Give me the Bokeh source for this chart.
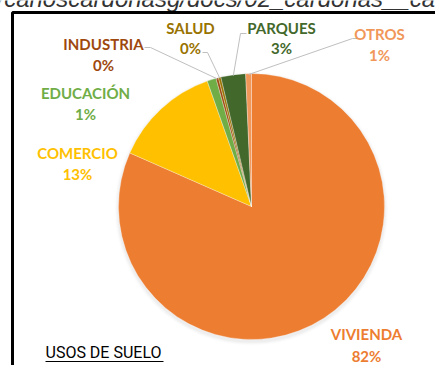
import numpy as np
from bokeh.plotting import figure
from bokeh.models import Range1d
from bokeh.core.properties import value
from bokeh.embed import file_html
from bokeh.resources import INLINE

# Land-use shares (percent of total area)
categories = ["VIVIENDA", "COMERCIO", "EDUCACIÓN", "INDUSTRIA", "SALUD", "PARQUES", "OTROS"]
shares = [81.6, 13.0, 1.1, 0.3, 0.3, 3.0, 0.7]
colors = ["#ED7D31", "#FFC000", "#70AD47", "#9E480E", "#997300", "#43682B", "#F1975A"]
chart_title = "USOS DE SUELO"
path_text = "/carloscardonasg/docs/02_cardonas__cardonas"

W, H = 435, 365


def Y(py):
    """Screen-style y (from top) to data y (from bottom)."""
    return H - py


p = figure(width=W, height=H, x_range=Range1d(0, W), y_range=Range1d(0, H),
           output_backend="svg", toolbar_location=None, min_border=0)
p.axis.visible = False
p.grid.visible = False
p.outline_line_color = None
p.background_fill_color = "white"

# Path text above the framed chart, running off the top edge
p.text(x=[-3], y=[Y(-2)], text=[path_text], text_font=value("Liberation Sans"),
       text_font_style="italic", text_font_size="24px", text_color="#333333",
       text_baseline="alphabetic", text_align="left")

# Black frame around the chart
p.quad(left=[12], right=[W + 20], top=[Y(12)], bottom=[-20],
       fill_color=None, line_color="black", line_width=3)

# Pie geometry
cx, cy, R = 251, Y(206), 133
vals = np.array(shares, dtype=float)
frac = vals / vals.sum()
cum_end = np.cumsum(frac)
cum_start = cum_end - frac
start = np.pi / 2 - 2 * np.pi * cum_start
end = np.pi / 2 - 2 * np.pi * cum_end
mid = (start + end) / 2

# soft shadow under the pie
for k, a in enumerate([0.05, 0.04, 0.03, 0.02]):
    p.circle(x=[cx], y=[cy - 2], radius=R + 1 + k, fill_color="#808080",
             fill_alpha=a, line_color=None)

p.wedge(x=cx, y=cy, radius=R, start_angle=start, end_angle=end,
        direction="clock", fill_color=colors, line_color="white",
        line_width=0.5, line_alpha=0.6)

pct = [f"{int(round(f * 100))}%" for f in frac]

# Label placements: (x center, name line y, percent line y) in screen px
label_pos = {
    "VIVIENDA": (366, 333, 355),
    "COMERCIO": (77, 152, 173),
    "EDUCACIÓN": (85, 92, 113),
    "INDUSTRIA": (103, 43, 64),
    "SALUD": (190, 27, 47),
    "PARQUES": (281, 27, 47),
    "OTROS": (379, 33, 54),
}

# Leader lines: label-side points in screen px, ending at the slice edge
leader_start = {
    "INDUSTRIA": [(144, 47), (150, 47)],
    "SALUD": [(202, 52), (207, 52)],
    "PARQUES": [(246, 33), (240, 33)],
    "OTROS": [(357, 38), (352, 38)],
}
xs, ys = [], []
for name, pts in leader_start.items():
    i = categories.index(name)
    ex = cx + (R - 1) * np.cos(mid[i])
    ey = cy + (R - 1) * np.sin(mid[i])
    xs.append([q[0] for q in pts] + [ex])
    ys.append([Y(q[1]) for q in pts] + [ey])
p.multi_line(xs=xs, ys=ys, line_color="#BFBFBF", line_width=1)

for i, name in enumerate(categories):
    lx, ny, py = label_pos[name]
    p.text(x=[lx], y=[Y(ny)], text=[name], text_font=value("Lato"),
           text_font_style="bold", text_font_size="15px", text_color=colors[i],
           text_align="center", text_baseline="middle")
    p.text(x=[lx], y=[Y(py)], text=[pct[i]], text_font=value("Lato"),
           text_font_style="bold", text_font_size="15px", text_color=colors[i],
           text_align="center", text_baseline="middle")

# Underlined chart title
p.text(x=[45], y=[Y(352)], text=[chart_title], text_font=value("Roboto"),
       text_font_size="16px", text_color="black", text_align="left",
       text_baseline="middle")
p.segment(x0=[45], y0=[Y(361)], x1=[163], y1=[Y(361)], line_color="black", line_width=1)

open("out.html", "w").write(file_html(p, INLINE))
